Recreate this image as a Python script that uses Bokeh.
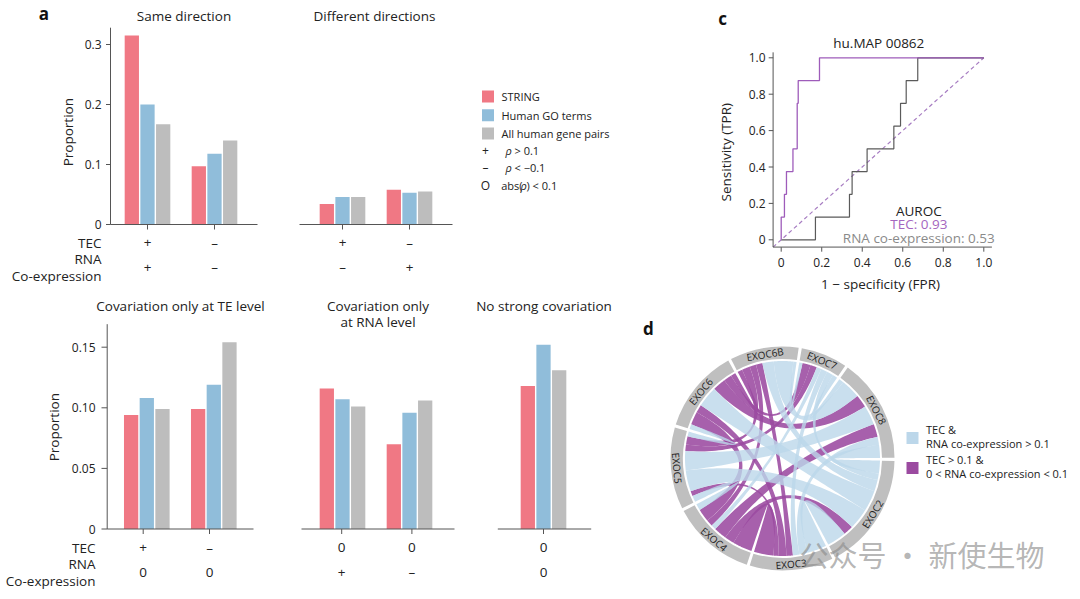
import numpy as np
from bokeh.plotting import figure
from bokeh.models import Range1d
from bokeh.core.properties import value
from bokeh.embed import file_html
from bokeh.resources import INLINE

# ---------------- data ----------------
series_names = ["STRING", "Human GO terms", "All human gene pairs"]
series_colors = ["#f07884", "#90bdda", "#bdbdbd"]

same_string = [0.315, 0.097]
same_go = [0.200, 0.118]
same_all = [0.167, 0.140]
same_tec = ["+", "–"]
same_rna = ["+", "–"]

diff_string = [0.034, 0.058]
diff_go = [0.046, 0.053]
diff_all = [0.046, 0.055]
diff_tec = ["+", "–"]
diff_rna = ["–", "+"]

te_string = [0.094, 0.099]
te_go = [0.108, 0.119]
te_all = [0.099, 0.154]
te_tec = ["+", "–"]
te_rna = ["0", "0"]

rnal_string = [0.116, 0.070]
rnal_go = [0.107, 0.096]
rnal_all = [0.101, 0.106]
rnal_tec = ["0", "0"]
rnal_rna = ["+", "–"]

none_string = [0.118]
none_go = [0.152]
none_all = [0.131]
none_tec = ["0"]
none_rna = ["0"]

top_yticks = [0, 0.1, 0.2, 0.3]
top_ytick_labels = ["0", "0.1", "0.2", "0.3"]
bot_yticks = [0, 0.05, 0.10, 0.15]
bot_ytick_labels = ["0", "0.05", "0.10", "0.15"]

roc_tec_fpr = [0, 0, 0.016, 0.016, 0.026, 0.026, 0.058, 0.058, 0.079, 0.079, 0.084, 0.084, 0.189, 0.189, 1.0]
roc_tec_tpr = [0, 0.125, 0.125, 0.25, 0.25, 0.375, 0.375, 0.5, 0.5, 0.75, 0.75, 0.875, 0.875, 1.0, 1.0]
roc_rna_fpr = [0, 0.169, 0.169, 0.337, 0.337, 0.350, 0.350, 0.424, 0.424, 0.556, 0.556, 0.589, 0.589,
               0.617, 0.617, 0.674, 0.674, 1.0]
roc_rna_tpr = [0, 0, 0.125, 0.125, 0.25, 0.25, 0.375, 0.375, 0.5, 0.5, 0.625, 0.625, 0.75, 0.75,
               0.875, 0.875, 1.0, 1.0]
roc_ticks = [0, 0.2, 0.4, 0.6, 0.8, 1.0]
roc_tick_labels = ["0", "0.2", "0.4", "0.6", "0.8", "1.0"]

chord_genes = ["EXOC2", "EXOC8", "EXOC7", "EXOC6B", "EXOC6", "EXOC5", "EXOC4", "EXOC3"]
link_from = ["EXOC2", "EXOC2", "EXOC2", "EXOC2", "EXOC2", "EXOC2", "EXOC2",
             "EXOC8", "EXOC8", "EXOC8", "EXOC8", "EXOC8", "EXOC8",
             "EXOC7", "EXOC7", "EXOC7", "EXOC7", "EXOC7",
             "EXOC6B", "EXOC6B", "EXOC6B", "EXOC6B",
             "EXOC6", "EXOC6", "EXOC6",
             "EXOC5", "EXOC5",
             "EXOC4"]
link_to = ["EXOC8", "EXOC7", "EXOC6B", "EXOC6", "EXOC5", "EXOC4", "EXOC3",
           "EXOC7", "EXOC6B", "EXOC6", "EXOC5", "EXOC4", "EXOC3",
           "EXOC6B", "EXOC6", "EXOC5", "EXOC4", "EXOC3",
           "EXOC6", "EXOC5", "EXOC4", "EXOC3",
           "EXOC5", "EXOC4", "EXOC3",
           "EXOC4", "EXOC3",
           "EXOC3"]
link_value = [8, 4, 7, 13, 13, 6, 12,
              3, 12, 8, 12, 8, 5,
              2, 5, 4, 3, 4,
              3, 5, 4, 4,
              3, 8, 5,
              4, 3,
              12]
link_kind = ["B", "B", "B", "B", "B", "P", "B",
             "B", "B", "P", "B", "P", "B",
             "B", "P", "P", "B", "B",
             "P", "P", "P", "P",
             "B", "P", "P",
             "B", "P",
             "P"]
chord_blue = "#bcd7ea"
chord_purple = "#9b4aa0"

# ---------------- canvas ----------------
W, H = 1072, 591
X0, X1, Y0, Y1 = 0, W, 0, H
p = figure(width=W, height=H, x_range=Range1d(X0, X1), y_range=Range1d(Y1, Y0),
           output_backend="svg", toolbar_location=None, title=None,
           x_axis_location=None, y_axis_location=None, min_border=0,
           outline_line_color=None, background_fill_color="white", border_fill_color="white")
p.grid.visible = False


def xmap(p0, v0, p1, v1):
    k = (v1 - v0) / (p1 - p0)
    return Range1d(v0 + (X0 - p0) * k, v0 + (X1 - p0) * k)


def ymap(q0, v0, q1, v1):
    k = (v1 - v0) / (q1 - q0)
    return Range1d(v0 + (Y1 - q0) * k, v0 + (Y0 - q0) * k)


GP = 67.0  # pixels per group
p.extra_x_ranges = {"a1": xmap(147, 0, 147 + GP, 1), "a2": xmap(342, 0, 342 + GP, 1),
                    "b1": xmap(146.3, 0, 146.3 + GP, 1), "b2": xmap(342, 0, 342 + GP, 1),
                    "b3": xmap(543, 0, 543 + GP, 1), "c": xmap(780.7, 0, 983.3, 1),
                    "d": xmap(782, 0, 783, 1)}
p.extra_y_ranges = {"top": ymap(224, 0, 164, 0.1), "bot": ymap(528.5, 0, 467.9, 0.05),
                    "c": ymap(239.3, 0, 57.3, 1), "d": ymap(458, 0, 457, 1)}

FONT = value("Open Sans")
TXT = "#222222"
AX = "#555555"
FS = 13.5


def txt(x, y, s, size=12, align="center", baseline="middle", color=TXT, xr="default", yr="default",
        angle=0, style="normal", font=FONT, alpha=1.0):
    if not isinstance(x, (list, tuple, np.ndarray)):
        x, y, s = [x], [y], [s]
    p.text(x=list(x), y=list(y), text=list(s), text_font=font, text_font_size=f"{size}px",
           text_align=align, text_baseline=baseline, text_color=color, text_alpha=alpha,
           x_range_name=xr, y_range_name=yr, angle=angle, angle_units="deg",
           text_font_style=style)


BW = 0.213
OFF = 0.234


def bar_panel(xr, yr, s_vals, g_vals, a_vals, ax0, ax1, base_px, tec, rna, tec_y, rna_y, tick_px):
    n = len(s_vals)
    g = np.arange(n)
    for vals, off, col in zip([s_vals, g_vals, a_vals], [-OFF, 0, OFF], series_colors):
        p.vbar(x=g + off, top=vals, bottom=0, width=BW, fill_color=col, line_color=None,
               x_range_name=xr, y_range_name=yr)
    p.segment(x0=[ax0], x1=[ax1], y0=[0], y1=[0], line_color=AX, line_width=1, y_range_name=yr)
    tk = g + np.array(tick_px) / GP
    p.segment(x0=tk, x1=tk, y0=[base_px] * n, y1=[base_px + 5] * n, line_color=AX,
              line_width=1, x_range_name=xr)
    txt(tk, [tec_y] * n, tec, size=FS, xr=xr)
    txt(tk, [rna_y] * n, rna, size=FS, xr=xr)


def y_axis(yr, x_px, top_val, ticks, labels, label_right, tlen):
    n = len(ticks)
    p.segment(x0=[x_px], x1=[x_px], y0=[0], y1=[top_val], line_color=AX, line_width=1, y_range_name=yr)
    p.segment(x0=[x_px - tlen] * n, x1=[x_px] * n, y0=ticks, y1=ticks, line_color=AX,
              line_width=1, y_range_name=yr)
    txt([label_right] * n, ticks, labels, size=12, align="right", yr=yr)


# ---------------- panel a (top) ----------------
txt(43.5, 13, "a", size=17, style="bold", color="#111")
txt(183.5, 15, "Same direction", size=FS)
txt(374, 15, "Different directions", size=FS)
y_axis("top", 110, 0.328, top_yticks, top_ytick_labels, 101, 4.5)
txt(67, 131.7, "Proportion", size=FS, angle=90)
bar_panel("a1", "top", same_string, same_go, same_all, 110, 257, 224, same_tec, same_rna, 242, 266.5, [0, 0])
bar_panel("a2", "top", diff_string, diff_go, diff_all, 299, 452, 224, diff_tec, diff_rna, 242, 266.5, [0, 0])
txt([101, 101, 101], [242, 258, 275], ["TEC", "RNA", "Co-expression"], size=FS, align="right")

# legend of panel a
p.rect(x=[487.5] * 3, y=[96, 114.7, 133], width=12, height=12, fill_color=series_colors, line_color=None)
txt([501] * 3, [96, 114.7, 133], series_names, size=11, align="left")
txt([485, 485, 485], [150, 167.3, 185], ["+", "–", "O"], size=12)
txt([505, 505], [150, 167.3], ["ρ", "ρ"], size=11, align="left", style="italic")
txt([514, 514], [150, 167.3], ["> 0.1", "< −0.1"], size=11, align="left")
txt(500.7, 185, "abs(", size=11, align="left")
txt(520, 185, "ρ", size=11, align="left", style="italic")
txt(526, 185, ") < 0.1", size=11, align="left")

# ---------------- panel a (bottom) ----------------
txt(180, 305, "Covariation only at TE level", size=FS)
txt([377.5, 377.5], [305, 321], ["Covariation only", "at RNA level"], size=FS)
txt(543.5, 305, "No strong covariation", size=FS)
y_axis("bot", 106.7, 0.169, bot_yticks, bot_ytick_labels, 95, 5.7)
txt(53, 426.7, "Proportion", size=FS, angle=90)
bar_panel("b1", "bot", te_string, te_go, te_all, 106.7, 253, 528.5, te_tec, te_rna, 547, 571.5, [-3.6, -4.3])
bar_panel("b2", "bot", rnal_string, rnal_go, rnal_all, 301, 454, 528.5, rnal_tec, rnal_rna, 547, 571.5, [-0.8, 2.4])
bar_panel("b3", "bot", none_string, none_go, none_all, 497.3, 590.7, 528.5, none_tec, none_rna, 547, 571.5, [0])
txt([95, 95, 95], [547, 563.5, 580], ["TEC", "RNA", "Co-expression"], size=FS, align="right")

# ---------------- panel c ----------------
txt(722, 18, "c", size=17, style="bold", color="#111")
txt(878.3, 42.3, "hu.MAP 00862", size=FS)
p.line(x=[-0.04, 1.0], y=[-0.04, 1.0], line_color="#a77dc2", line_width=1.2, line_dash="4 3",
       x_range_name="c", y_range_name="c")
p.line(x=roc_rna_fpr, y=roc_rna_tpr, line_color="#5a5a5a", line_width=1.2, x_range_name="c", y_range_name="c")
p.line(x=roc_tec_fpr, y=roc_tec_tpr, line_color="#9e5cba", line_width=1.3, x_range_name="c", y_range_name="c")
p.segment(x0=[-0.04], x1=[-0.04], y0=[-0.04], y1=[1.03], line_color=AX, x_range_name="c", y_range_name="c")
p.segment(x0=[-0.04], x1=[1.04], y0=[-0.04], y1=[-0.04], line_color=AX, x_range_name="c", y_range_name="c")
nt = len(roc_ticks)
p.segment(x0=[768.2] * nt, x1=[772.7] * nt, y0=roc_ticks, y1=roc_ticks, line_color=AX, y_range_name="c")
p.segment(x0=roc_ticks, x1=roc_ticks, y0=[246.7] * nt, y1=[251.2] * nt, line_color=AX, x_range_name="c")
txt([765] * nt, roc_ticks, roc_tick_labels, size=12, align="right", yr="c")
txt(roc_ticks, [261.7] * nt, roc_tick_labels, size=12, xr="c")
txt(725, 151.7, "Sensitivity (TPR)", size=FS, angle=90)
txt(880, 283.3, "1 − specificity (FPR)", size=FS)
txt(918.3, 210, "AUROC", size=FS, color="#222")
txt(918.3, 223.5, "TEC: 0.93", size=FS, color="#a566c0")
txt(918.3, 237.7, "RNA co-expression: 0.53", size=FS, color="#8a8a8a")

# ---------------- panel d (chord diagram) ----------------
txt(648, 328, "d", size=17, style="bold", color="#111")
ng = len(chord_genes)
gi = {g: i for i, g in enumerate(chord_genes)}
totals = np.zeros(ng)
for a, b, v in zip(link_from, link_to, link_value):
    totals[gi[a]] += v
    totals[gi[b]] += v
GAP = 1.6
START = -62.0
deg_per = (360 - ng * GAP) / totals.sum()
sec_start = np.zeros(ng)
sec_end = np.zeros(ng)
ang = START
for i in range(ng):
    sec_start[i] = ang
    ang += totals[i] * deg_per
    sec_end[i] = ang
    ang += GAP

ends = {}
for i in range(ng):
    items = []
    for k, (a, b) in enumerate(zip(link_from, link_to)):
        if gi[a] == i:
            j = gi[b]
        elif gi[b] == i:
            j = gi[a]
        else:
            continue
        items.append(((j - i) % ng, k))
    items.sort(reverse=True)
    pos = sec_start[i]
    for d, k in items:
        w = link_value[k] * deg_per
        ends[(k, i)] = (pos, pos + w)
        pos += w

R_IN, R_OUT, R_CH = 99.5, 112.0, 97.5


def arc(a0, a1, r, m=30):
    t = np.radians(np.linspace(a0, a1, m))
    return r * np.cos(t), r * np.sin(t)


def bez(pa, pb, m=50):
    t = np.linspace(0, 1, m)
    return (1 - t) ** 2 * pa[0] + t ** 2 * pb[0], (1 - t) ** 2 * pa[1] + t ** 2 * pb[1]


def pt(a, r):
    return (r * np.cos(np.radians(a)), r * np.sin(np.radians(a)))


xs_p, ys_p, xs_b, ys_b = [], [], [], []
for k, (a, b) in enumerate(zip(link_from, link_to)):
    a1, a2 = ends[(k, gi[a])]
    b1, b2 = ends[(k, gi[b])]
    ax_, ay_ = arc(a1, a2, R_CH)
    c1x, c1y = bez(pt(a2, R_CH), pt(b1, R_CH))
    bx_, by_ = arc(b1, b2, R_CH)
    c2x, c2y = bez(pt(b2, R_CH), pt(a1, R_CH))
    X = np.concatenate([ax_, c1x, bx_, c2x])
    Y = np.concatenate([ay_, c1y, by_, c2y])
    if link_kind[k] == "P":
        xs_p.append(X); ys_p.append(Y)
    else:
        xs_b.append(X); ys_b.append(Y)

p.patches(xs=xs_p, ys=ys_p, fill_color=chord_purple, fill_alpha=0.88, line_color=None,
          x_range_name="d", y_range_name="d")
p.patches(xs=xs_b, ys=ys_b, fill_color=chord_blue, fill_alpha=0.8, line_color=None,
          x_range_name="d", y_range_name="d")
p.annular_wedge(x=[0] * ng, y=[0] * ng, inner_radius=R_IN, outer_radius=R_OUT,
                start_angle=sec_start, end_angle=sec_end,
                start_angle_units="deg", end_angle_units="deg",
                fill_color="#bfbfbf", line_color=None, x_range_name="d", y_range_name="d")
mids = (sec_start + sec_end) / 2
rl = (R_IN + R_OUT) / 2
lab_x = rl * np.cos(np.radians(mids))
lab_y = rl * np.sin(np.radians(mids))
for g, m, lx, ly in zip(chord_genes, mids, lab_x, lab_y):
    rot = m - 90 if np.sin(np.radians(m)) > 0 else m + 90
    txt(lx, ly, g, size=10, xr="d", yr="d", angle=rot, color="#222")

# legend of panel d
p.rect(x=[912, 912], y=[437.5, 467.5], width=12, height=12, fill_color=[chord_blue, chord_purple], line_color=None)
txt([925.5] * 4, [429, 443.3, 459, 473.3],
    ["TEC &", "RNA co-expression > 0.1", "TEC > 0.1 &", "0 < RNA co-expression < 0.1"], size=11, align="left")

# watermark
txt(799, 553, "公众号 · 新使生物", size=29, align="left", color="#8c8c8c", alpha=0.65,
    font=value("Noto Sans CJK SC"))

open("out.html", "w").write(file_html(p, INLINE))
